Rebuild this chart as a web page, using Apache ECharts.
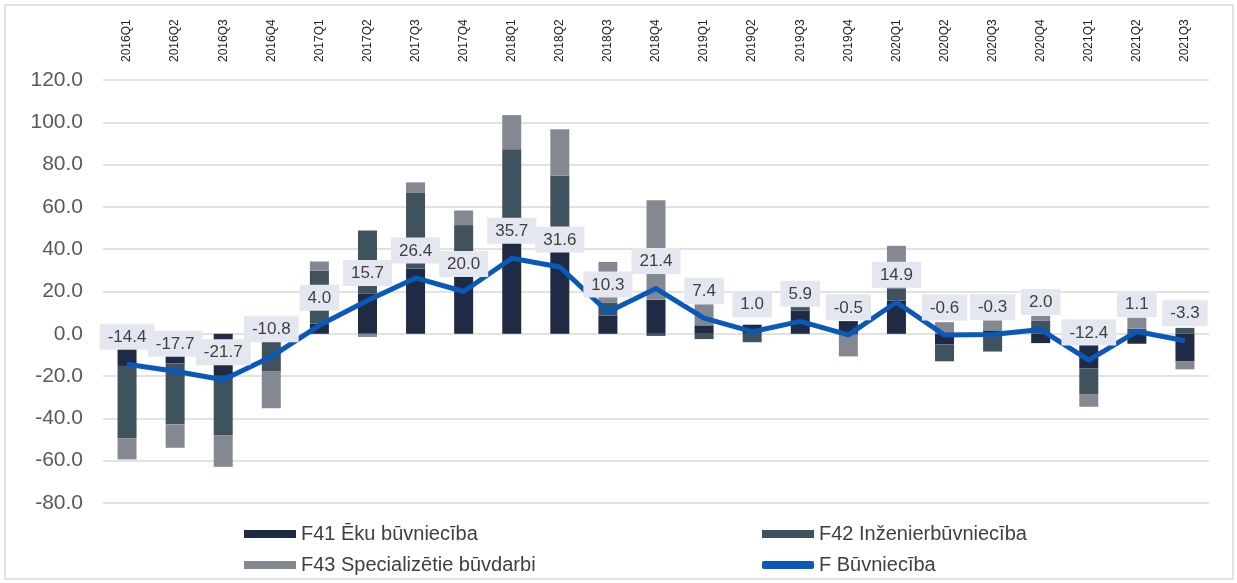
<!DOCTYPE html>
<html>
	<head>
		<meta charset="utf-8">
		<style>
			html,body{
				margin:0;
				padding:0;
				background:#fff;
			}
			#container{
				width:1237px;
				height:583px;
			}
		</style>
	</head>
	<body>
		<div id="container"></div>
	<script type="text/javascript" src="https://cdn.jsdelivr.net/npm/echarts/dist/echarts.min.js"></script>
	<script>
        // dati
        var categories = ['2016Q1','2016Q2','2016Q3','2016Q4','2017Q1','2017Q2','2017Q3','2017Q4',
            '2018Q1','2018Q2','2018Q3','2018Q4','2019Q1','2019Q2','2019Q3','2019Q4',
            '2020Q1','2020Q2','2020Q3','2020Q4','2021Q1','2021Q2','2021Q3'];
        var f41 = [-15.2,-13.9,-19.9,-1.0,4.7,19.1,30.9,28.0,44.0,40.0,8.6,16.1,4.0,4.3,11.0,6.0,15.7,-5.0,1.6,-4.4,-16.3,-4.7,-12.9];
        var f42 = [-34.2,-28.9,-28.0,-16.9,25.1,29.8,35.7,23.4,43.3,34.9,6.0,-1.0,-2.5,-4.0,1.6,-0.5,5.8,-8.0,-8.4,6.3,-12.2,2.4,2.8];
        var f43 = [-10.0,-11.1,-15.0,-17.3,4.4,-1.5,5.0,6.9,16.1,21.8,19.4,47.1,9.9,0,0.3,-10.2,20.1,5.5,4.7,2.2,-6.0,5.2,-3.9];
        var fTotal = [-14.4,-17.7,-21.7,-10.8,4.0,15.7,26.4,20.0,35.7,31.6,10.3,21.4,7.4,1.0,5.9,-0.5,14.9,-0.6,-0.3,2.0,-12.4,1.1,-3.3];
        var names = ['F41 Ēku būvniecība','F42 Inženierbūvniecība','F43 Specializētie būvdarbi','F Būvniecība'];

        var colors = ['#1f2a44', '#41525f', '#848991', '#0a58ba'];
        var font = 'Liberation Sans, Arial, sans-serif';

        var myChart = echarts.init(document.getElementById('container'));

        function barSeries(name, data, color){
            return {
                name: name,
                type: 'bar',
                stack: 'F',
                barWidth: 19,
                itemStyle: { color: color },
                data: data
            };
        }

        var legendText = { fontFamily: font, fontSize: 20, color: '#404040' };

        var option = {
            animation: false,
            backgroundColor: '#fff',
            color: colors,
            graphic: [{
                type: 'rect',
                shape: { x: 5, y: 5, width: 1228, height: 574 },
                style: { fill: 'none', stroke: '#d9d9d9', lineWidth: 1.5 },
                silent: true
            }],
            grid: {
                left: 103,
                right: 28,
                top: 80,
                bottom: 80
            },
            legend: [
                {
                    left: 239,
                    top: 519,
                    orient: 'vertical',
                    itemWidth: 52,
                    itemHeight: 8,
                    itemGap: 11,
                    icon: 'rect',
                    textStyle: legendText,
                    data: [names[0], names[2]]
                },
                {
                    left: 757,
                    top: 519,
                    orient: 'vertical',
                    itemWidth: 52,
                    itemHeight: 8,
                    itemGap: 11,
                    textStyle: legendText,
                    data: [{ name: names[1], icon: 'rect' }, { name: names[3], icon: 'roundRect' }]
                }
            ],
            xAxis: {
                type: 'category',
                position: 'top',
                data: categories,
                axisLine: { show: false },
                axisTick: { show: false },
                axisLabel: {
                    rotate: 90,
                    margin: 18,
                    fontFamily: font,
                    fontSize: 12,
                    color: '#262626'
                }
            },
            yAxis: {
                type: 'value',
                min: -80,
                max: 120,
                interval: 20,
                axisLine: { show: false },
                axisTick: { show: false },
                splitLine: { lineStyle: { color: '#d9d9d9', width: 1.5 } },
                axisLabel: {
                    margin: 20,
                    fontFamily: font,
                    fontSize: 21,
                    color: '#595959',
                    formatter: function (v) { return v.toFixed(1); }
                }
            },
            series: [
                barSeries(names[0], f41, colors[0]),
                barSeries(names[1], f42, colors[1]),
                barSeries(names[2], f43, colors[2]),
                {
                    name: names[3],
                    type: 'line',
                    data: fTotal,
                    symbol: 'circle',
                    symbolSize: 1,
                    showSymbol: true,
                    z: 5,
                    lineStyle: { color: colors[3], width: 5, join: 'round' },
                    itemStyle: { color: colors[3] },
                    labelLayout: { hideOverlap: false },
                    label: {
                        show: true,
                        position: 'top',
                        distance: 14,
                        fontFamily: font,
                        fontSize: 17,
                        color: '#404040',
                        backgroundColor: '#e4e7f0',
                        padding: [5, 8, 4, 8],
                        formatter: function (p) { return p.value.toFixed(1); }
                    }
                }
            ]
        };

        if (option && typeof option === "object") {
            myChart.setOption(option, true);
        }
	</script>
	</body>
</html>
